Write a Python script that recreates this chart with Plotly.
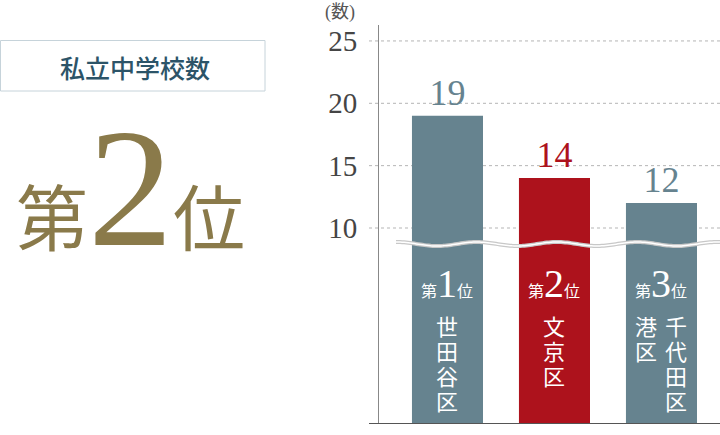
import numpy as np
import plotly.graph_objects as go

# ---- data ----
ranks = [1, 2, 3]
values = [19, 14, 12]
ward_columns = [["世田谷区"], ["文京区"], ["千代田区", "港区"]]
ytick_vals = [10, 15, 20, 25]
headline_title = "私立中学校数"
headline_rank = 2
unit_label = "(数)"

# ---- style ----
W, H = 720, 435
SLATE = "#66838f"
RED = "#ad121c"
GOLD = "#8a7a4a"
bar_colors = [SLATE, RED, SLATE]
SERIF = "Liberation Serif, Noto Sans CJK JP"
CJK = "Noto Sans CJK JP"

def px(xp):
    return xp / W

def py(yp):
    return 1 - yp / H

# axis geometry (pixels)
ax_left = 379
grid_left = 369
y_top, y_break, y_bottom = 25, 244, 424
y10_px, unit_px = 228, 12.47
up_lo = 10 - (y_break - y10_px) / unit_px
up_hi = 10 + (y10_px - y_top) / unit_px
xpos = list(range(len(values)))

fig = go.Figure()
for yref in ["y", "y2"]:
    fig.add_trace(go.Bar(
        x=xpos, y=values, width=0.664, yaxis=yref,
        marker=dict(color=bar_colors, line=dict(width=0)),
        text=[str(v) for v in values] if yref == "y2" else None,
        textposition="outside" if yref == "y2" else "none",
        textfont=dict(family="Liberation Serif", size=36, color=bar_colors),
        constraintext="none", cliponaxis=False, hoverinfo="skip",
    ))

shapes = []
for v in ytick_vals:
    shapes.append(dict(type="line", xref="paper", yref="y2", x0=px(grid_left), x1=1,
                       y0=v, y1=v, line=dict(color="#b5b5b5", width=1, dash="dot"),
                       layer="below"))
# baseline
shapes.append(dict(type="line", xref="paper", yref="y", x0=px(grid_left), x1=1, y0=0, y1=0,
                   line=dict(color="#555555", width=2), layer="above"))
# break wave
xs = np.linspace(396, 720, 160)
ys = y_break - 2 * np.cos(2 * np.pi * (xs - 397) / 80)
path = "M " + " L ".join(f"{px(a):.5f},{py(b):.5f}" for a, b in zip(xs, ys))
shapes.append(dict(type="path", xref="paper", yref="paper", path=path,
                   line=dict(color="#c8c8c8", width=4), layer="above"))
shapes.append(dict(type="path", xref="paper", yref="paper", path=path,
                   line=dict(color="#ffffff", width=1.5), layer="above"))
# title box
shapes.append(dict(type="rect", xref="paper", yref="paper", x0=px(0.5), x1=px(265),
                   y0=py(40.5), y1=py(91), line=dict(color="#c6d3da", width=1),
                   fillcolor="rgba(0,0,0,0)"))

ann = []
def add(**kw):
    kw.setdefault("showarrow", False)
    kw.setdefault("xanchor", "center")
    kw.setdefault("yanchor", "middle")
    ann.append(kw)

add(text=headline_title, x=px(135), y=py(67), xref="paper", yref="paper",
    font=dict(family=CJK, size=25, color="#2c5468", weight=500))
add(text=f"第<span style='font-size:170px'>{headline_rank}</span>位",
    x=px(130), y=py(188), xref="paper", yref="paper",
    font=dict(family=SERIF, size=72, color=GOLD))
add(text=unit_label, x=px(340), y=py(12), xref="paper", yref="paper",
    font=dict(family=SERIF, size=18, color="#555555"))

for i, (r, cols) in enumerate(zip(ranks, ward_columns)):
    add(text=f"第<span style='font-size:40px'>{r}</span>位",
        x=i, xref="x", y=py(283), yref="paper",
        font=dict(family=SERIF, size=16, color="white"))
    n = len(cols)
    for c, name in enumerate(cols):
        xoff = (n - 1) * 15 - c * 30
        for k, ch in enumerate(name):
            add(text=ch, x=i, xref="x", xshift=xoff,
                y=py(325 + 25 * k), yref="paper",
                font=dict(family=CJK, size=22, color="white"))

fig.update_layout(
    width=W, height=H, margin=dict(l=0, r=0, t=0, b=0),
    paper_bgcolor="white", plot_bgcolor="white", showlegend=False,
    xaxis=dict(domain=[px(ax_left), 1], range=[-0.64, 2.547], showticklabels=False,
               showgrid=False, zeroline=False, showline=False, ticks=""),
    yaxis=dict(domain=[py(y_bottom), py(y_break)], range=[0, 1], tickvals=[0],
               showgrid=False, zeroline=False, showline=True, linecolor="#888888",
               linewidth=1, ticks="", ticklabelstandoff=15,
               tickfont=dict(family="Liberation Serif", size=29, color="#454545")),
    yaxis2=dict(domain=[py(y_break), py(y_top)], range=[up_lo, up_hi], tickvals=ytick_vals,
                anchor="x", showgrid=False, zeroline=False, showline=True,
                linecolor="#888888", linewidth=1, ticks="", ticklabelstandoff=15,
                tickfont=dict(family="Liberation Serif", size=29, color="#454545")),
    shapes=shapes, annotations=ann,
)
fig.write_html("out.html")
